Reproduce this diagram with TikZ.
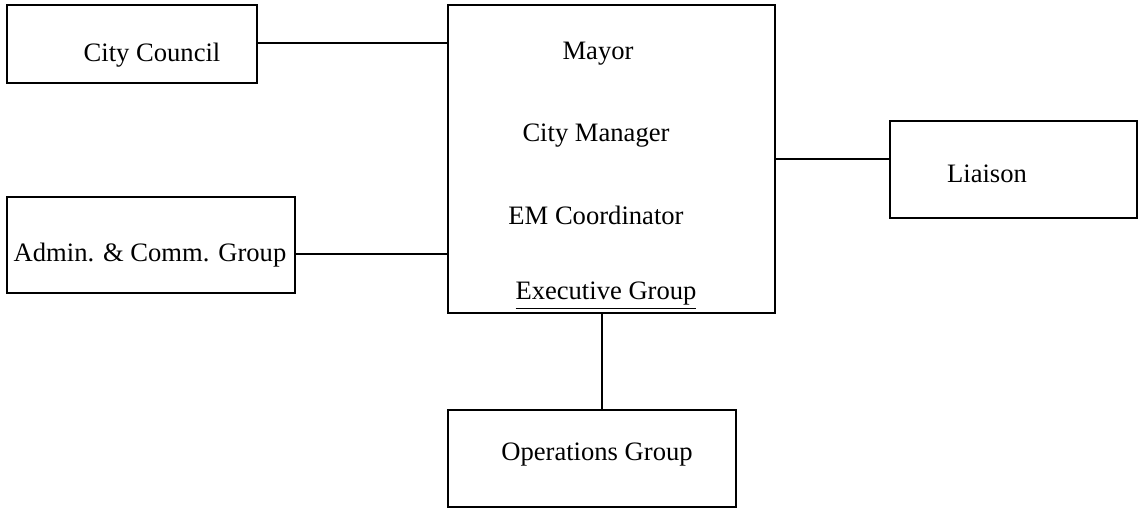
\documentclass[tikz,border=0pt]{standalone}
\usepackage{fontspec}
\setmainfont{Liberation Serif}
\usepackage{xcolor}
\definecolor{ink}{RGB}{0,0,0}
\tikzset{
  box/.style={draw=ink,line width=0.65pt,inner sep=0pt,outer sep=0pt},
  lbl/.style={font=\fontsize{13.3}{16}\selectfont,inner sep=0pt},
  link/.style={draw=ink,line width=0.65pt}
}

\begin{document}
\begin{tikzpicture}[x=0.5pt,y=-0.5pt]
  \useasboundingbox (0,0) rectangle (1142,508);
  % boxes: name / centre x / centre y / width / height
  \foreach \name/\x/\y/\w/\h in {council/132/44/250/78,admin/151/245/288/96,
      mayor/611.5/159/327/308,liaison/1013.5/169.5/247/97,ops/592/458.5/288/97}{
    \node[box,minimum width=\w*0.5pt,minimum height=\h*0.5pt] (\name) at (\x,\y){};
  }
  \node[lbl] (counciltxt) at (152,55){City Council};
  \node[lbl] (admintxt) at (150,255){Admin. \& Comm. Group};
  \node[lbl] (mayortxt) at (598,54){Mayor};
  \node[lbl] (managertxt) at (596,136){City Manager};
  \node[lbl] (emtxt) at (596,215){EM Coordinator};
  \node[lbl] (exectxt) at (606,296){\underline{Executive Group}};
  \node[lbl] (liaisontxt) at (987,174){Liaison};
  \node[lbl] (opstxt) at (597,455){Operations Group};
  \draw[link] ([yshift=0.5pt]council.east) -- ([yshift=0.5pt]council.east -| mayor.west);
  \draw[link] ([yshift=-4.5pt]admin.east) -- ([yshift=-4.5pt]admin.east -| mayor.west);
  \draw[link] (mayor.east) -- (mayor.east -| liaison.west);
  \draw[link] ([xshift=5pt]ops.north) -- ([xshift=5pt]ops.north |- mayor.south);
\end{tikzpicture}
\end{document}
